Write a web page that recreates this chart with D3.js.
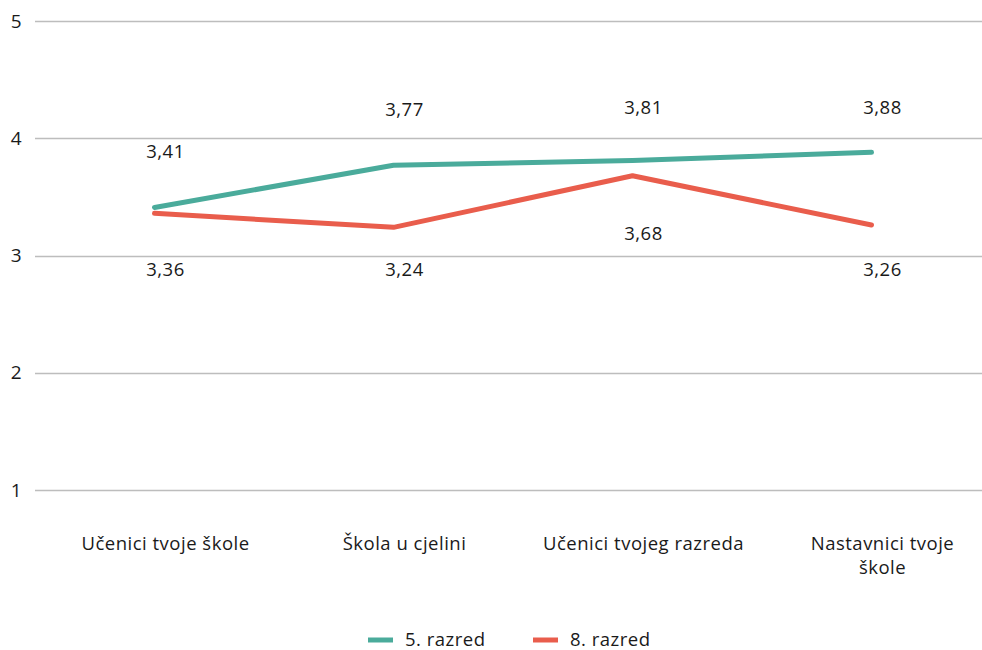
<!DOCTYPE html>
<html>
<head>
<meta charset="utf-8">
<script src="https://cdn.jsdelivr.net/npm/d3@7"></script>
<style>
  body { margin: 0; background: #fff; }
  text { font-family: "Open Sans", "Noto Sans", sans-serif; fill: #1a1a1a; letter-spacing: 0.5px; }
</style>
</head>
<body>
<script>
// Chart data
var categories = ["Učenici tvoje škole", "Škola u cjelini", "Učenici tvojeg razreda", "Nastavnici tvoje škole"];
var grade5 = [3.41, 3.77, 3.81, 3.88];
var grade8 = [3.36, 3.24, 3.68, 3.26];
var seriesNames = ["5. razred", "8. razred"];
var yTicks = [1, 2, 3, 4, 5];

var svgWidth = 982;
var svgHeight = 650;

var green = "#4aab9b";
var red = "#e95d4c";

var svg = d3.select("body")
  .append("svg")
  .attr("width", svgWidth)
  .attr("height", svgHeight);

// x: band centers for each category
var xScale = d3.scaleBand()
  .domain(categories)
  .range([35, 991])
  .padding(0);

var xMid = d => xScale(d) + xScale.bandwidth() / 2;
// text labels sit a little right of the points in the original
var labelShift = 11;

var yScale = d3.scaleLinear()
  .domain([1, 5])
  .range([490, 21]);

// gridlines
svg.append("g")
  .selectAll("line")
  .data(yTicks)
  .enter()
  .append("line")
  .attr("x1", 35)
  .attr("x2", svgWidth)
  .attr("y1", d => Math.round(yScale(d)) + 0.5)
  .attr("y2", d => Math.round(yScale(d)) + 0.5)
  .attr("stroke", "#bdbdbd")
  .attr("stroke-width", 1.5);

// left axis labels
var leftAxis = d3.axisLeft(yScale).tickValues(yTicks).tickFormat(d3.format("d")).tickSize(0).tickPadding(0);
var axisG = svg.append("g")
  .attr("transform", "translate(22,0)")
  .call(leftAxis);
axisG.select(".domain").remove();
axisG.selectAll("text")
  .style("font-size", "19px")
  .style("font-family", "'Open Sans', 'Noto Sans', sans-serif")
  .attr("fill", "#1a1a1a");

// category labels with wrapping near the right edge
categories.forEach(function (c) {
  var cx = xMid(c) + labelShift;
  var maxW = Math.min(xScale.bandwidth(), 2 * (svgWidth - cx) - 20);
  var t = svg.append("text")
    .attr("x", cx)
    .attr("y", 550)
    .attr("text-anchor", "middle")
    .style("font-size", "18.5px");
  var words = c.split(" ");
  var line = [];
  var tspan = t.append("tspan").attr("x", cx).attr("dy", 0);
  words.forEach(function (w) {
    line.push(w);
    tspan.text(line.join(" "));
    if (tspan.node().getComputedTextLength() > maxW && line.length > 1) {
      line.pop();
      tspan.text(line.join(" "));
      line = [w];
      tspan = t.append("tspan").attr("x", cx).attr("dy", "1.3em").text(w);
    }
  });
});

// lines
var drawLine = d3.line()
  .x((d, i) => xMid(categories[i]))
  .y(d => yScale(d));

svg.append("path")
  .attr("d", drawLine(grade8))
  .attr("fill", "none")
  .attr("stroke", red)
  .attr("stroke-width", 5)
  .attr("stroke-linecap", "round")
  .attr("stroke-linejoin", "round");

svg.append("path")
  .attr("d", drawLine(grade5))
  .attr("fill", "none")
  .attr("stroke", green)
  .attr("stroke-width", 5)
  .attr("stroke-linecap", "round")
  .attr("stroke-linejoin", "round");

var fmt = v => v.toFixed(2).replace(".", ",");

// data labels: 5. razred above, 8. razred below
grade5.forEach(function (v, i) {
  svg.append("text")
    .attr("x", xMid(categories[i]) + labelShift)
    .attr("y", Math.max(yScale(v) - 56, yScale(4) - 31))
    .attr("dy", "0.35em")
    .attr("text-anchor", "middle")
    .style("font-size", "18.5px")
    .text(fmt(v));
});

grade8.forEach(function (v, i) {
  svg.append("text")
    .attr("x", xMid(categories[i]) + labelShift)
    .attr("y", Math.min(yScale(v) + 58, yScale(3) + 14))
    .attr("dy", "0.35em")
    .attr("text-anchor", "middle")
    .style("font-size", "18.5px")
    .text(fmt(v));
});

// legend
var legendColors = [green, red];
var legendX = [368, 533];
seriesNames.forEach(function (name, i) {
  svg.append("line")
    .attr("x1", legendX[i])
    .attr("x2", legendX[i] + 25)
    .attr("y1", 640)
    .attr("y2", 640)
    .attr("stroke", legendColors[i])
    .attr("stroke-width", 5);
  svg.append("text")
    .attr("x", legendX[i] + 37)
    .attr("y", 640)
    .attr("dy", "0.35em")
    .style("font-size", "18.5px")
    .text(name);
});
</script>
</body>
</html>
